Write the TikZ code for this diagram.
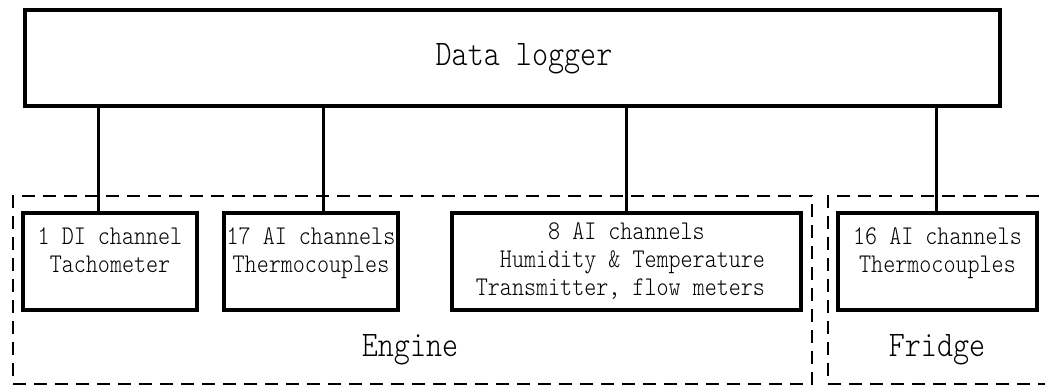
\documentclass[tikz,border=0pt]{standalone}
\usepackage{fontspec}
\newfontfamily\narrowmono[FakeStretch=0.85]{lmmonolt10-regular.otf}
\newcommand\smalltxt{\narrowmono\fontsize{27}{28}\selectfont}
\newcommand\bigtxt{\narrowmono\fontsize{36}{40}\selectfont}
\tikzset{
    unit/.style={draw, line width=3.5pt, align=center, inner sep=0pt,
        font=\smalltxt, minimum height=97},
    group/.style={draw, line width=2pt, dash pattern=on 13pt off 8pt,
        minimum height=188},
    tap/.style={line width=3pt},
}
\begin{document}
\begin{tikzpicture}[x=1pt,y=-1pt]
            \useasboundingbox (0,0) rectangle (1045,387);

            \node[group, minimum width=799] (engine) at (412.5,290) {};
            \node[group, minimum width=232] (fridge) at (944,290) {};
            \node[font=\bigtxt] (enginetext) at (410,350) {Engine};
            \node[font=\bigtxt] (fridgetext) at (937,350) {Fridge};

            \node[draw, line width=3.5pt, minimum width=975, minimum height=96]
                (logger) at (512.5,58) {};
            \node[font=\bigtxt] (loggertext) at (524,59) {Data logger};

            \node[unit, minimum width=174] (di) at (110,261.5)
                {1 DI channel\\Tachometer\\[-5pt]};
            \node[unit, minimum width=174] (tc) at (311,261.5)
                {17 AI channels\\Thermocouples\\[-5pt]};
            \node[unit, minimum width=349] (ht) at (626.5,261.5)
                {8 AI channels\\\hphantom{x}Humidity \& Temperature\\Transmitter, flow meters\hphantom{x}};
            \node[unit, minimum width=199] (ft) at (937.5,261.5)
                {16 AI channels\\Thermocouples\\[-5pt]};

            \foreach \b/\dx in {di/-12, tc/12, ht/0, ft/-1} {
                \draw[tap] ([xshift=\dx]\b.north) -- ([xshift=\dx]\b.north |- logger.south);
            }
        \end{tikzpicture}
\end{document}
